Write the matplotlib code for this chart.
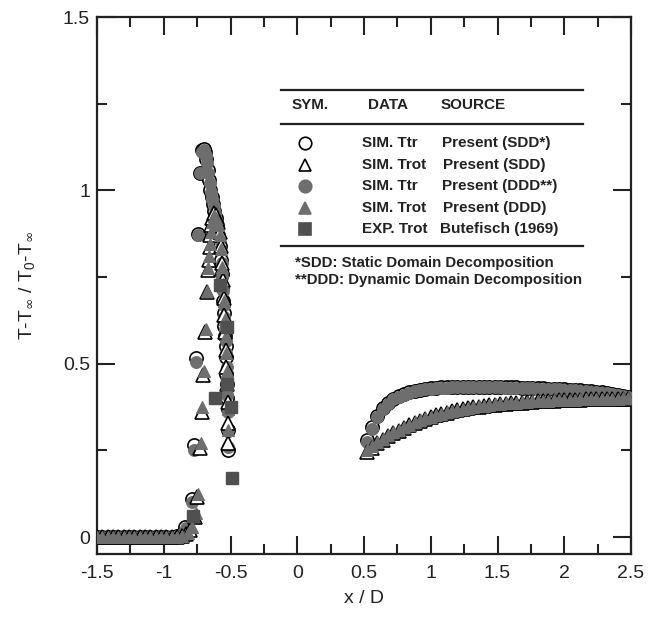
import matplotlib
matplotlib.use("Agg")
import matplotlib.pyplot as plt
from matplotlib.ticker import MultipleLocator, FuncFormatter
from matplotlib.lines import Line2D

plt.rcParams["font.family"] = ["Liberation Sans", "DejaVu Sans"]
plt.rcParams["mathtext.fontset"] = "custom"
plt.rcParams["mathtext.rm"] = "Liberation Sans"
plt.rcParams["mathtext.sf"] = "DejaVu Sans"
plt.rcParams["mathtext.default"] = "regular"
plt.rcParams["axes.unicode_minus"] = False

GRAY = "#6e6e6e"
DARK = "#505050"

# upstream (free stream) samples, shared by the simulations
x_up = [-1.50, -1.46, -1.42, -1.38, -1.34, -1.30, -1.26, -1.22, -1.18, -1.14,
        -1.10, -1.06, -1.02, -0.98, -0.94, -0.90, -0.86]
y_up_ttr = [0, 0, 0, 0, 0, 0, 0, 0, 0, 0, 0, 0, 0, 0, 0, 0.003, 0.008]
y_up_trot = [0, 0, 0, 0, 0, 0, 0, 0, 0, 0, 0, 0, 0, 0, 0, 0.001, 0.003]

# shock layer in front of the body
x_sh_ttr_sdd = [-0.84, -0.79, -0.775, -0.76, -0.745, -0.73, -0.715, -0.70, -0.69, -0.68,
                -0.67, -0.66, -0.65, -0.64, -0.63, -0.62, -0.61, -0.60, -0.59, -0.58,
                -0.57, -0.565, -0.56, -0.555, -0.55, -0.545, -0.54, -0.535, -0.53, -0.53,
                -0.525, -0.525, -0.52, -0.52, -0.52]
y_sh_ttr_sdd = [0.03, 0.11, 0.265, 0.515, 0.875, 1.05, 1.115, 1.12, 1.11, 1.09,
                1.06, 1.03, 1.00, 0.98, 0.96, 0.94, 0.92, 0.90, 0.87, 0.84,
                0.80, 0.76, 0.72, 0.68, 0.645, 0.61, 0.58, 0.55, 0.52, 0.47,
                0.44, 0.40, 0.37, 0.31, 0.25]

x_sh_ttr_ddd = [-0.83, -0.785, -0.77, -0.755, -0.74, -0.725, -0.71, -0.695, -0.685, -0.675,
                -0.665, -0.655, -0.645, -0.635, -0.625, -0.615, -0.605, -0.595, -0.585, -0.575,
                -0.567, -0.561, -0.556, -0.551, -0.546, -0.541, -0.536, -0.531, -0.528, -0.525,
                -0.523, -0.521, -0.519, -0.518]
y_sh_ttr_ddd = [0.025, 0.10, 0.25, 0.505, 0.87, 1.05, 1.11, 1.115, 1.10, 1.08,
                1.05, 1.02, 0.995, 0.975, 0.955, 0.935, 0.915, 0.89, 0.86, 0.83,
                0.79, 0.75, 0.71, 0.67, 0.635, 0.60, 0.565, 0.53, 0.49, 0.45,
                0.41, 0.36, 0.31, 0.26]

x_sh_trot_sdd = [-0.83, -0.80, -0.766, -0.75, -0.728, -0.713, -0.706, -0.69, -0.676, -0.668,
                 -0.662, -0.654, -0.650, -0.646, -0.640, -0.625, -0.61, -0.595, -0.58, -0.57,
                 -0.56, -0.555, -0.55, -0.545, -0.54, -0.535, -0.53, -0.525, -0.52, -0.52,
                 -0.515]
y_sh_trot_sdd = [0.01, 0.02, 0.058, 0.115, 0.256, 0.36, 0.467, 0.59, 0.706, 0.77,
                 0.80, 0.836, 0.87, 0.90, 0.92, 0.935, 0.93, 0.91, 0.88, 0.84,
                 0.79, 0.74, 0.69, 0.64, 0.59, 0.54, 0.49, 0.44, 0.39, 0.33,
                 0.27]

x_sh_trot_ddd = [-0.82, -0.79, -0.76, -0.745, -0.724, -0.71, -0.702, -0.687, -0.673, -0.665,
                 -0.658, -0.651, -0.645, -0.638, -0.625, -0.61, -0.595, -0.58, -0.57, -0.56,
                 -0.553, -0.547, -0.542, -0.537, -0.532, -0.527, -0.523, -0.52, -0.517]
y_sh_trot_ddd = [0.012, 0.03, 0.07, 0.125, 0.27, 0.375, 0.48, 0.60, 0.71, 0.775,
                 0.81, 0.845, 0.88, 0.91, 0.925, 0.92, 0.90, 0.87, 0.83, 0.78,
                 0.73, 0.68, 0.63, 0.58, 0.53, 0.48, 0.43, 0.37, 0.31]

# wake behind the body
x_wake = [0.52, 0.56, 0.60, 0.64, 0.68, 0.72, 0.76, 0.80, 0.84, 0.88,
          0.92, 0.96, 1.00, 1.04, 1.08, 1.12, 1.16, 1.20, 1.24, 1.28,
          1.32, 1.36, 1.40, 1.44, 1.48, 1.52, 1.56, 1.60, 1.64, 1.68,
          1.72, 1.76, 1.80, 1.84, 1.88, 1.92, 1.96, 2.00, 2.04, 2.08,
          2.12, 2.16, 2.20, 2.24, 2.28, 2.32, 2.36, 2.40, 2.44, 2.48]
y_wake_ttr_sdd = [0.280, 0.318, 0.350, 0.372, 0.388, 0.399, 0.407, 0.413, 0.418, 0.422,
                  0.425, 0.428, 0.430, 0.431, 0.432, 0.433, 0.433, 0.434, 0.434, 0.434,
                  0.434, 0.434, 0.434, 0.434, 0.433, 0.433, 0.433, 0.432, 0.432, 0.431,
                  0.431, 0.430, 0.430, 0.429, 0.428, 0.428, 0.427, 0.426, 0.425, 0.424,
                  0.423, 0.422, 0.420, 0.419, 0.417, 0.415, 0.413, 0.411, 0.408, 0.405]
y_wake_ttr_ddd = [0.274, 0.312, 0.345, 0.368, 0.385, 0.397, 0.405, 0.411, 0.416, 0.420,
                  0.424, 0.426, 0.428, 0.430, 0.431, 0.431, 0.432, 0.432, 0.432, 0.433,
                  0.433, 0.433, 0.432, 0.432, 0.432, 0.432, 0.431, 0.431, 0.430, 0.430,
                  0.429, 0.429, 0.428, 0.428, 0.427, 0.426, 0.426, 0.425, 0.424, 0.423,
                  0.422, 0.420, 0.419, 0.417, 0.416, 0.414, 0.412, 0.409, 0.406, 0.403]
y_wake_trot_sdd = [0.245, 0.258, 0.270, 0.280, 0.290, 0.299, 0.307, 0.315, 0.322, 0.329,
                   0.335, 0.341, 0.346, 0.351, 0.355, 0.359, 0.363, 0.366, 0.369, 0.372,
                   0.374, 0.376, 0.378, 0.380, 0.382, 0.383, 0.385, 0.386, 0.387, 0.388,
                   0.389, 0.390, 0.391, 0.392, 0.393, 0.393, 0.394, 0.395, 0.395, 0.396,
                   0.396, 0.397, 0.397, 0.397, 0.398, 0.398, 0.398, 0.398, 0.399, 0.399]
y_wake_trot_ddd = [0.250, 0.263, 0.274, 0.284, 0.293, 0.302, 0.310, 0.317, 0.324, 0.331,
                   0.337, 0.342, 0.347, 0.352, 0.356, 0.360, 0.364, 0.367, 0.370, 0.373,
                   0.375, 0.377, 0.379, 0.381, 0.383, 0.384, 0.386, 0.387, 0.388, 0.389,
                   0.390, 0.391, 0.392, 0.393, 0.393, 0.394, 0.395, 0.395, 0.396, 0.396,
                   0.397, 0.397, 0.398, 0.398, 0.398, 0.399, 0.399, 0.399, 0.400, 0.400]

# experiment (Butefisch 1969)
x_exp = [-0.78, -0.615, -0.58, -0.526, -0.526, -0.50, -0.49]
y_exp = [0.062, 0.40, 0.726, 0.605, 0.44, 0.375, 0.17]

fig = plt.figure(figsize=(6.49, 6.2), dpi=100)
L, R, T, B = 97, 631, 17, 554
W, H = 649, 620
ax = fig.add_axes([L / W, 1 - B / H, (R - L) / W, (B - T) / H])

ms = 9.5
ax.plot(x_up + x_sh_ttr_sdd + x_wake, y_up_ttr + y_sh_ttr_sdd + y_wake_ttr_sdd,
        "o", ms=ms, mfc="white", mec="black", mew=1.2, ls="none", zorder=3)
ax.plot(x_up + x_sh_ttr_ddd + x_wake, y_up_ttr + y_sh_ttr_ddd + y_wake_ttr_ddd,
        "o", ms=ms - 1, mfc=GRAY, mec=GRAY, mew=0.8, ls="none", zorder=4)
ax.plot(x_up + x_sh_trot_sdd + x_wake, y_up_trot + y_sh_trot_sdd + y_wake_trot_sdd,
        "^", ms=ms, mfc="white", mec="black", mew=1.2, ls="none", zorder=5)
ax.plot(x_up + x_sh_trot_ddd + x_wake, y_up_trot + y_sh_trot_ddd + y_wake_trot_ddd,
        "^", ms=ms - 1.5, mfc=GRAY, mec=GRAY, mew=0.8, ls="none", zorder=6)
ax.plot(x_exp, y_exp, "s", ms=8, mfc=DARK, mec=DARK, ls="none", zorder=7)

ax.set_xlim(-1.5, 2.5)
ax.set_ylim(-0.049, 1.5)
ax.xaxis.set_major_locator(MultipleLocator(0.5))
ax.xaxis.set_minor_locator(MultipleLocator(0.25))
ax.yaxis.set_major_locator(MultipleLocator(0.5))
ax.yaxis.set_minor_locator(MultipleLocator(0.25))
fmt = FuncFormatter(lambda v, p: "%g" % v)
ax.xaxis.set_major_formatter(fmt)
ax.yaxis.set_major_formatter(fmt)
ax.tick_params(which="both", direction="in", top=True, right=True, colors="#222222",
               width=1.5, labelsize=14, labelcolor="#222222")
ax.tick_params(which="major", length=13)
ax.tick_params(which="minor", length=7)
ax.tick_params(axis="x", pad=8)
ax.tick_params(axis="y", pad=5)
for s in ax.spines.values():
    s.set_linewidth(1.6)
    s.set_color("#222222")

ax.set_xlabel("x / D", fontsize=14, color="#222222")
ax.set_ylabel(r"T-T$_{\mathsf{\infty}}$ / T$_{0}$-T$_{\mathsf{\infty}}$", fontsize=14,
              color="#222222")
ax.xaxis.set_label_coords(0.5, (B - 590) / (B - T))
ax.yaxis.set_label_coords((37 - L) / (R - L), 0.5)


# legend table drawn in pixel positions of the figure
def fx(px):
    return px / W


def fy(py):
    return 1 - py / H


for py in (90, 124, 246):
    fig.add_artist(Line2D([fx(281), fx(583)], [fy(py), fy(py)], color="#222222", lw=1.6))

fs = 11
kw = dict(fontsize=fs, fontweight="bold", color="#222222", va="center", ha="left")
fig.text(fx(292), fy(105), "SYM.", **kw)
fig.text(fx(368), fy(105), "DATA", **kw)
fig.text(fx(441), fy(105), "SOURCE", **kw)

rows = [
    ("o", "white", "black", "SIM. Ttr", "Present (SDD*)"),
    ("^", "white", "black", "SIM. Trot", "Present (SDD)"),
    ("o", GRAY, GRAY, "SIM. Ttr", "Present (DDD**)"),
    ("^", GRAY, GRAY, "SIM. Trot", "Present (DDD)"),
    ("s", DARK, DARK, "EXP. Trot", "Butefisch (1969)"),
]
row_y = [143, 165, 186, 208, 229]
src_x = [442, 443, 442, 443, 440]
for (mk, fc, ec, data, src), py, sx in zip(rows, row_y, src_x):
    fig.add_artist(Line2D([fx(305)], [fy(py)], marker=mk, ms=9, mfc=fc, mec=ec,
                          mew=1.2, ls="none"))
    fig.text(fx(362), fy(py), data, **kw)
    fig.text(fx(sx), fy(py), src, **kw)

kw_note = dict(kw, fontsize=10.8)
fig.text(fx(295), fy(263), "*SDD: Static Domain Decomposition", **kw_note)
fig.text(fx(295), fy(280), "**DDD: Dynamic Domain Decomposition", **kw_note)

fig.savefig("out.png", dpi=100)
